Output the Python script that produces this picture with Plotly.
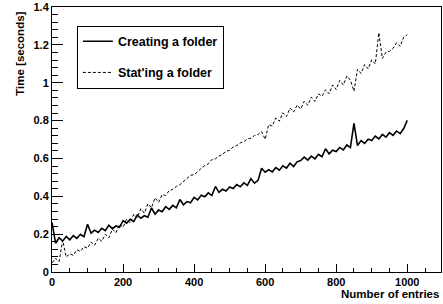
import plotly.graph_objects as go

entries = list(range(0, 1001, 10))

creating = [
    0.262, 0.152, 0.181, 0.163, 0.188, 0.170, 0.192, 0.178, 0.199, 0.186,
    0.252, 0.205, 0.221, 0.209, 0.231, 0.218, 0.247, 0.229, 0.243, 0.236,
    0.271, 0.258, 0.279, 0.266, 0.301, 0.284, 0.297, 0.289, 0.338, 0.306,
    0.327, 0.318, 0.345, 0.331, 0.352, 0.339, 0.383, 0.355, 0.372, 0.366,
    0.394, 0.381, 0.405, 0.397, 0.418, 0.404, 0.452, 0.421, 0.437, 0.428,
    0.449, 0.441, 0.462, 0.450, 0.471, 0.458, 0.493, 0.469, 0.484, 0.548,
    0.527, 0.541, 0.529, 0.552, 0.538, 0.561, 0.549, 0.575, 0.557, 0.582,
    0.589, 0.607, 0.591, 0.612, 0.598, 0.622, 0.609, 0.651, 0.624, 0.643,
    0.636, 0.658, 0.645, 0.671, 0.657, 0.785, 0.668, 0.694, 0.679, 0.702,
    0.695, 0.718, 0.703, 0.727, 0.712, 0.736, 0.722, 0.745, 0.731, 0.758,
    0.801,
]

stating = [
    0.048, 0.072, 0.055, 0.168, 0.079, 0.096, 0.088, 0.118, 0.109, 0.134,
    0.126, 0.158, 0.141, 0.178, 0.162, 0.199, 0.181, 0.226, 0.207, 0.253,
    0.236, 0.279, 0.259, 0.306, 0.287, 0.334, 0.311, 0.361, 0.339, 0.392,
    0.368, 0.409, 0.404, 0.431, 0.436, 0.452, 0.461, 0.478, 0.492, 0.511,
    0.514, 0.533, 0.547, 0.562, 0.571, 0.594, 0.598, 0.612, 0.622, 0.638,
    0.643, 0.661, 0.668, 0.682, 0.689, 0.703, 0.707, 0.721, 0.726, 0.742,
    0.701, 0.779, 0.771, 0.814, 0.797, 0.841, 0.821, 0.866, 0.845, 0.882,
    0.861, 0.902, 0.881, 0.924, 0.901, 0.941, 0.929, 0.963, 0.942, 0.988,
    0.964, 1.012, 0.988, 1.036, 1.013, 0.955, 1.071, 1.049, 1.096, 1.073,
    1.121, 1.099, 1.264, 1.128, 1.161, 1.166, 1.181, 1.211, 1.192, 1.241,
    1.253,
]

FONT = "Liberation Sans, Arial, Helvetica, sans-serif"

fig = go.Figure()
fig.add_trace(go.Scatter(x=entries, y=creating, mode="lines", name="Creating a folder",
                         legendgroup="a", line=dict(color="black", width=1.6)))
fig.add_trace(go.Scatter(x=entries, y=stating, mode="lines", name="Stat'ing a folder",
                         legendgroup="b", line=dict(color="black", width=1, dash="3px,2px")))

axis_common = dict(showgrid=False, zeroline=False, showline=True, linecolor="black",
                   linewidth=1, mirror=True, ticks="inside", tickcolor="black",
                   tickfont=dict(family=FONT, size=11, color="black", weight="bold"))

fig.update_xaxes(range=[0, 1095], tickvals=[0, 200, 400, 600, 800, 1000], ticklen=8,
                 minor=dict(dtick=50, tick0=0, ticks="inside", ticklen=4, tickcolor="black"),
                 **axis_common)
fig.update_yaxes(range=[0, 1.4], tickvals=[0, 0.2, 0.4, 0.6, 0.8, 1.0, 1.2, 1.4],
                 ticktext=["0", "0.2", "0.4", "0.6", "0.8", "1", "1.2", "1.4"], ticklen=11,
                 minor=dict(dtick=0.04, tick0=0, ticks="inside", ticklen=6, tickcolor="black"),
                 **axis_common)

fig.add_annotation(text="Number of entries", xref="paper", yref="paper", x=1.0, y=-0.083,
                   xanchor="right", yanchor="middle", showarrow=False,
                   font=dict(family=FONT, size=11.5, color="black", weight="bold"))
fig.add_annotation(text="Time [seconds]", xref="paper", yref="paper", x=-0.082, y=0.99,
                   xanchor="center", yanchor="top", textangle=-90, showarrow=False,
                   font=dict(family=FONT, size=11.5, color="black", weight="bold"))

fig.update_layout(
    width=443, height=304,
    margin=dict(l=52, r=2, t=7, b=32),
    plot_bgcolor="white", paper_bgcolor="white",
    font=dict(family=FONT, color="black", weight="bold"),
    legend=dict(x=0.064, y=0.93, xanchor="left", yanchor="top",
                bgcolor="white", bordercolor="black", borderwidth=1,
                font=dict(family=FONT, size=12.5, color="black", weight="bold"),
                tracegroupgap=12, traceorder="grouped"),
    showlegend=True,
)

fig.write_html(
    "out.html",
    config={"displayModeBar": False},
    post_script="document.body.style.margin='0';document.body.style.overflow='hidden';",
)
